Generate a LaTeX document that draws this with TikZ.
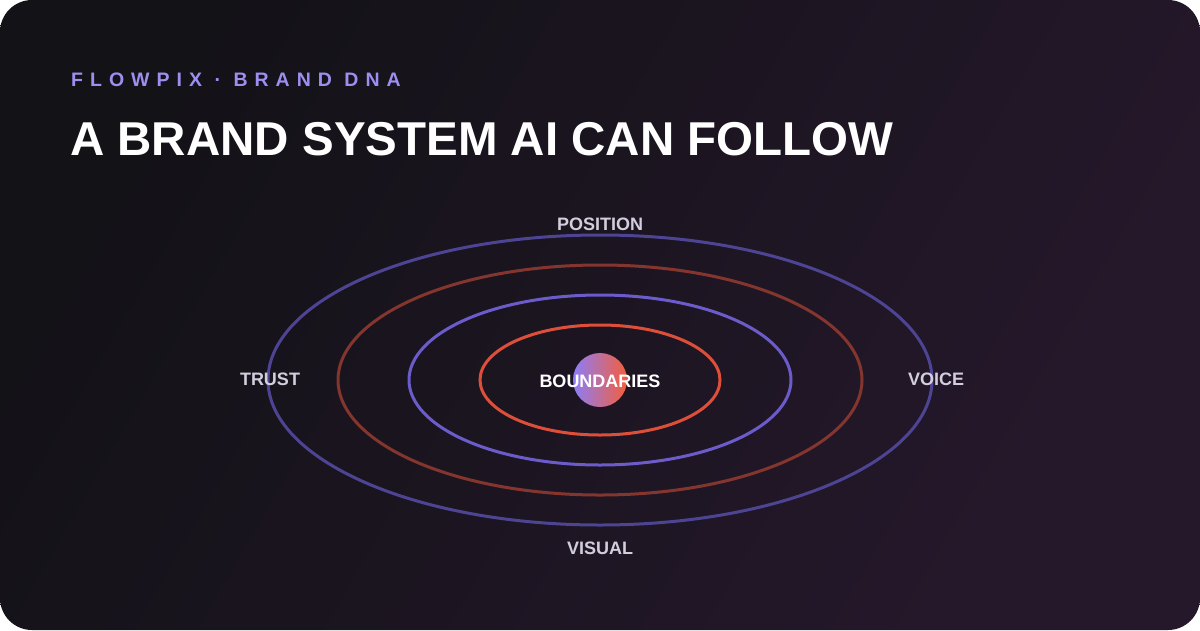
\documentclass[tikz,border=0pt]{standalone}
\usepackage{fontspec}
\setmainfont{Liberation Sans}
\newfontfamily\kickerfont[LetterSpace=36]{Liberation Sans}
\usetikzlibrary{shapes.geometric}
\definecolor{bgA}{HTML}{131217}
\definecolor{bgB}{HTML}{25182B}
\definecolor{kicker}{HTML}{9C8FF0}
\definecolor{lbl}{HTML}{D2CEDD}
\definecolor{ringA}{HTML}{4E4494}
\definecolor{ringB}{HTML}{83352E}
\definecolor{ringC}{HTML}{6C5CCB}
\definecolor{ringD}{HTML}{DE4F3A}
\definecolor{coreL}{HTML}{8C7DF7}
\definecolor{coreR}{HTML}{F45E3C}
\tikzset{
  ring/.style={line width=3pt},
  axislabel/.style={font=\fontsize{18}{20}\selectfont\bfseries, text=lbl, inner sep=0pt},
}
\begin{document}
\begin{tikzpicture}[x=1pt,y=-1pt]
\useasboundingbox (0,0) rectangle (1200,630);
\fill[white] (0,0) rectangle (1200,630);
\shade[rounded corners=32pt, left color=bgA, right color=bgB, shading angle=60] (0,0) rectangle (1200,630);
% header
\node[anchor=base west, inner sep=0pt, text=kicker, font=\kickerfont\fontsize{19.5}{22}\selectfont\bfseries] (kick) at (71,86) {FLOWPIX · BRAND DNA};
\node[anchor=base west, inner sep=0pt, text=white, font=\fontsize{47.5}{52}\selectfont\bfseries] (title) at (70,155) {A BRAND SYSTEM AI CAN FOLLOW};
% rings
\draw[ring, ringA] (600,380) ellipse [x radius=332, y radius=145];
\draw[ring, ringB] (600,380) ellipse [x radius=262, y radius=115];
\draw[ring, ringC] (600,380) ellipse [x radius=191, y radius=85];
\draw[ring, ringD] (600,380) ellipse [x radius=120, y radius=55];
% core
\shade[left color=coreL, right color=coreR] (600,380) circle [radius=27];
\node[inner sep=0pt, text=white, font=\fontsize{18}{20}\selectfont\bfseries] (core) at (600,381) {BOUNDARIES};
% labels
\node[axislabel] (pos) at (600,224) {POSITION};
\node[axislabel] (trust) at (270,379) {TRUST};
\node[axislabel] (voice) at (936,379) {VOICE};
\node[axislabel] (visual) at (600,548) {VISUAL};
\end{tikzpicture}
\end{document}
